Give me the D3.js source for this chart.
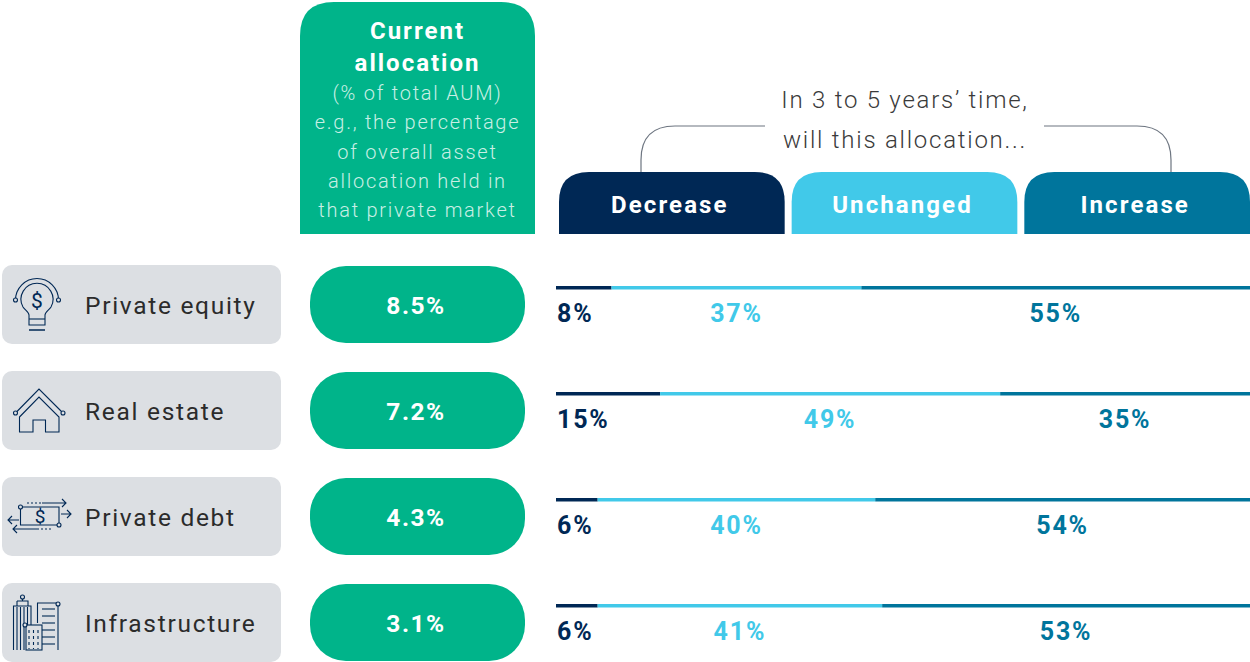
<!DOCTYPE html>
<html>
<head>
<meta charset="utf-8">
<script src="https://cdn.jsdelivr.net/npm/d3@7"></script>
<style>
  html, body { margin: 0; padding: 0; background: #fff; }
  text { font-family: Roboto, sans-serif; }
</style>
</head>
<body>
<script>
var categories = ["Private equity", "Real estate", "Private debt", "Infrastructure"];
var currentAllocation = ["8.5%", "7.2%", "4.3%", "3.1%"];

// printed labels
var decreaseLabels = ["8%", "15%", "6%", "6%"];
var unchangedLabels = ["37%", "49%", "40%", "41%"];
var increaseLabels = ["55%", "35%", "54%", "53%"];

// lengths of the segments as drawn in the picture (share of the full line)
var decreaseBar = [8, 15, 6, 6];
var unchangedBar = [36, 49, 40, 41];
var increaseBar = [56, 36, 54, 53];

var headerLines = ["(% of total AUM)", "e.g., the percentage", "of overall asset", "allocation held in", "that private market"];
var groups = ["Decrease", "Unchanged", "Increase"];
var questionLines = ["In 3 to 5 years\u2019 time,", "will this allocation..."];

var green = "#00b48a", navy = "#002855", sky = "#41c9e9", teal = "#00759c", grey = "#dcdfe3", ink = "#2b2b2b";
var groupColor = d3.scaleOrdinal().domain(groups).range([navy, sky, teal]);

var svg = d3.select("body").append("svg").attr("width", 1250).attr("height", 662).style("display", "block");

var y = d3.scaleBand().domain(categories).range([265, 689]).paddingInner(0);   // one step = 106
var x = d3.scaleLinear().domain([0, 100]).range([556, 1250]);
var tabX = d3.scaleBand().domain(groups).range([559, 1250]).paddingInner(0.03);

// top-rounded tab, flat at the bottom
function tab(x0, y0, w, h, r) {
  return "M" + x0 + "," + (y0 + h) + "V" + (y0 + r) + "Q" + x0 + "," + y0 + " " + (x0 + r) + "," + y0 +
    "H" + (x0 + w - r) + "Q" + (x0 + w) + "," + y0 + " " + (x0 + w) + "," + (y0 + r) + "V" + (y0 + h) + "Z";
}

// green header
svg.append("path").attr("d", tab(300, 2, 235, 232, 34)).attr("fill", green);
svg.selectAll("text.headTitle")
  .data(["Current", "allocation"])
  .enter().append("text")
  .attr("class", "headTitle")
  .attr("x", 417.5)
  .attr("y", function(d, i) { return 39 + i * 32; })
  .attr("text-anchor", "middle")
  .attr("fill", "#fff")
  .attr("font-size", 24)
  .attr("font-weight", 700)
  .attr("letter-spacing", 2)
  .text(function(d) { return d; });
svg.selectAll("text.headLine")
  .data(headerLines)
  .enter().append("text")
  .attr("class", "headLine")
  .attr("x", 417.5)
  .attr("y", function(d, i) { return 100 + i * 29.3; })
  .attr("text-anchor", "middle")
  .attr("fill", "#c9efe5")
  .attr("font-size", 20)
  .attr("font-weight", 300)
  .attr("letter-spacing", 1.75)
  .text(function(d) { return d; });

// question + bracket
svg.append("path")
  .attr("d", "M641,172V160Q641,126 675,126H765M1044,126H1137Q1171,126 1171,160V172")
  .attr("fill", "none")
  .attr("stroke", "#6d7580")
  .attr("stroke-width", 1.2);
svg.selectAll("text.question")
  .data(questionLines)
  .enter().append("text")
  .attr("class", "question")
  .attr("x", 905)
  .attr("y", function(d, i) { return 108 + i * 40; })
  .attr("text-anchor", "middle")
  .attr("fill", "#3a3a3a")
  .attr("font-size", 24)
  .attr("font-weight", 300)
  .attr("letter-spacing", 1.75)
  .text(function(d) { return d; });

// coloured tabs
svg.selectAll("path.tab")
  .data(groups)
  .enter().append("path")
  .attr("class", "tab")
  .attr("d", function(d) { return tab(tabX(d), 172, tabX.bandwidth(), 62, 30); })
  .attr("fill", function(d) { return groupColor(d); });
svg.selectAll("text.tabLabel")
  .data(groups)
  .enter().append("text")
  .attr("class", "tabLabel")
  .attr("x", function(d) { return tabX(d) + tabX.bandwidth() / 2 - 2; })
  .attr("y", 213)
  .attr("text-anchor", "middle")
  .attr("fill", "#fff")
  .attr("font-size", 24)
  .attr("font-weight", 700)
  .attr("letter-spacing", 2.1)
  .text(function(d) { return d; });

// rows
var rows = svg.selectAll("g.row")
  .data(categories)
  .enter().append("g")
  .attr("class", "row")
  .attr("transform", function(d) { return "translate(0," + y(d) + ")"; });

rows.append("rect")
  .attr("x", 2).attr("y", 0).attr("width", 279).attr("height", 79).attr("rx", 10)
  .attr("fill", grey);
rows.append("text")
  .attr("x", 85).attr("y", 49)
  .attr("fill", ink)
  .attr("font-size", 24.5)
  .attr("letter-spacing", 1.7)
  .text(function(d) { return d; });

rows.append("rect")
  .attr("x", 310).attr("y", 1).attr("width", 215).attr("height", 77).attr("rx", 36)
  .attr("fill", green);
rows.append("text")
  .attr("x", 416).attr("y", 49)
  .attr("text-anchor", "middle")
  .attr("fill", "#fff")
  .attr("font-size", 24.5)
  .attr("font-weight", 700)
  .attr("letter-spacing", 1.5)
  .text(function(d, i) { return currentAllocation[i]; });

// segmented line + labels
rows.each(function(d, i) {
  var g = d3.select(this);
  var segs = [
    { name: "Decrease", from: 0, to: decreaseBar[i], label: decreaseLabels[i] },
    { name: "Unchanged", from: decreaseBar[i], to: decreaseBar[i] + unchangedBar[i], label: unchangedLabels[i] },
    { name: "Increase", from: decreaseBar[i] + unchangedBar[i], to: decreaseBar[i] + unchangedBar[i] + increaseBar[i], label: increaseLabels[i] }
  ];
  g.selectAll("rect.seg")
    .data(segs)
    .enter().append("rect")
    .attr("class", "seg")
    .attr("x", function(s) { return x(s.from); })
    .attr("y", 21)
    .attr("width", function(s) { return x(s.to) - x(s.from); })
    .attr("height", 3.5)
    .attr("fill", function(s) { return groupColor(s.name); });
  g.selectAll("text.val")
    .data(segs)
    .enter().append("text")
    .attr("class", "val")
    .attr("x", function(s, j) { return j == 0 ? x(s.from) + 1 : x((s.from + s.to) / 2); })
    .attr("y", 57)
    .attr("text-anchor", function(s, j) { return j == 0 ? "start" : "middle"; })
    .attr("fill", function(s) { return groupColor(s.name); })
    .attr("font-size", 25)
    .attr("font-weight", 700)
    .attr("letter-spacing", 1.8)
    .text(function(s) { return s.label; });
});

// icons, drawn in each row's own coordinates
function line(g, d, w) {
  return g.append("path").attr("d", d).attr("fill", "none").attr("stroke", navy).attr("stroke-width", w || 1.1);
}
function node(g, cx, cy) {
  g.append("circle").attr("cx", cx).attr("cy", cy).attr("r", 2).attr("fill", grey).attr("stroke", navy).attr("stroke-width", 1.1);
}
function dollar(g, cx, cy, size) {
  g.append("text").attr("x", cx).attr("y", cy).attr("text-anchor", "middle").attr("fill", navy)
    .attr("font-size", size).attr("font-weight", 400).text("$");
}

var bulb = d3.select(rows.nodes()[0]);
line(bulb, "M15.5,35A21.5,21.5 0 0 1 58.5,35");
line(bulb, "M29,60V50C29,47 25,45 23,42A16,16 0 1 1 51,42C49,45 45,47 45,50V60Z");
line(bulb, "M29,54H45");
line(bulb, "M29,65H45", 1.5);
node(bulb, 15.5, 35);
node(bulb, 58.5, 35);
dollar(bulb, 37, 43, 21);

var house = d3.select(rows.nodes()[1]);
line(house, "M15.5,42L39,18L63,42");
line(house, "M19.5,46L39,26L59,46V61H45.5V49H33V61H19.5Z");
node(house, 15.5, 42);
node(house, 63, 42);

var debt = d3.select(rows.nodes()[2]);
line(debt, "M20.5,30H59V48H20.5Z");
line(debt, "M27,26H42").attr("stroke-dasharray", "2 2");
line(debt, "M42,26H66M62,22L66,26L62,30");
line(debt, "M13,52H37M17,48L13,52L17,56");
line(debt, "M37,52H52").attr("stroke-dasharray", "2 2");
line(debt, "M61,37H71M67,33L71,37L67,41");
line(debt, "M8,43H19M12,39L8,43L12,47");
node(debt, 20.5, 30);
node(debt, 59, 48);
dollar(debt, 40, 46, 19);

var city = d3.select(rows.nodes()[3]);
line(city, "M13.5,67V23H31V44");
line(city, "M17,18H28V23M17,23V18M22.5,18V14");
node(city, 22.5, 14);
d3.range(17, 30, 3.5).forEach(function(vx) { line(city, "M" + vx + ",24V67"); });
line(city, "M37.5,40V20H58V67");
d3.range(26, 64, 7).forEach(function(hy) { line(city, "M42,"+ hy + "H55"); });
city.append("rect").attr("x", 26).attr("y", 42).attr("width", 16).attr("height", 25).attr("fill", grey).attr("stroke", navy).attr("stroke-width", 1.1);
d3.range(29, 41, 4.5).forEach(function(vx) { line(city, "M" + vx + ",47V66").attr("stroke-dasharray", "3 3"); });
node(city, 25, 42);
node(city, 58, 21);
</script>
</body>
</html>
